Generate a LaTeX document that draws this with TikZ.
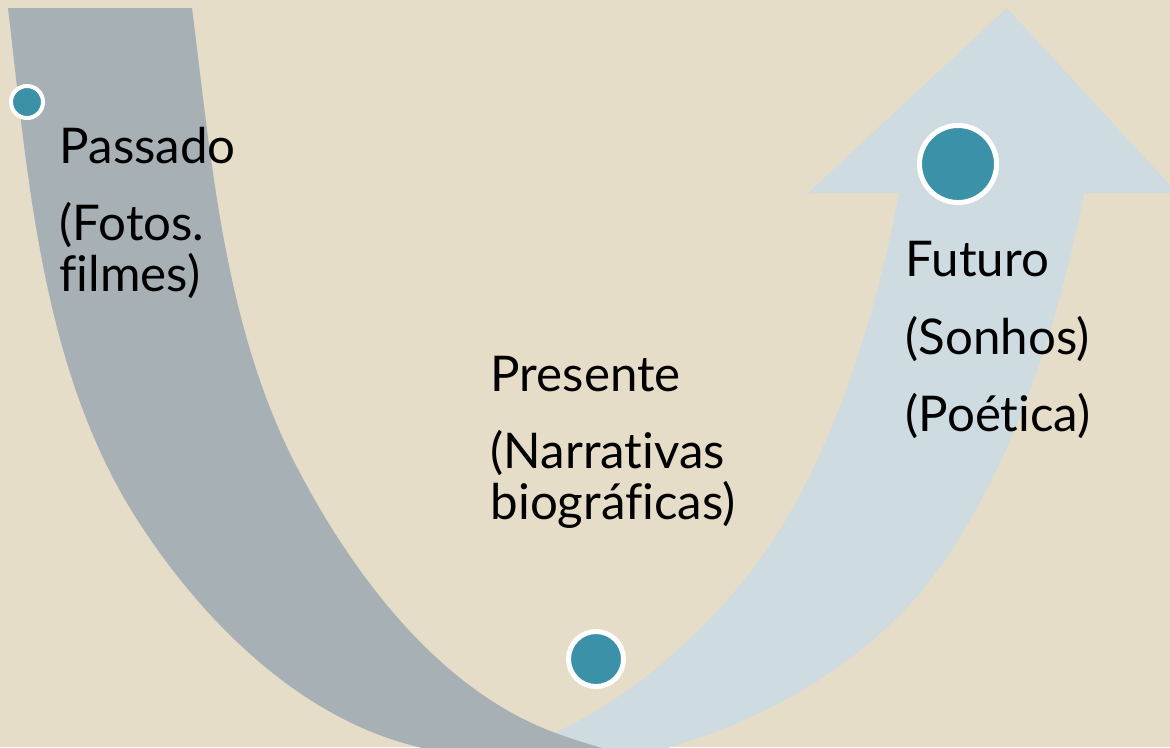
\documentclass[tikz,border=0pt]{standalone}
\usepackage{fontspec}
\setmainfont{Lato}[Ligatures={NoCommon}]
\usetikzlibrary{positioning}

\definecolor{bgbeige}{HTML}{E5DDC8}
\definecolor{pastgray}{HTML}{A6B0B5}
\definecolor{futureblue}{HTML}{CEDBE0}
\definecolor{dotteal}{HTML}{3A91A8}

\begin{document}
\begin{tikzpicture}[
    x=0.01cm, y=-0.01cm,
    dot/.style={circle, draw=white, fill=dotteal, inner sep=0pt},
    lbl/.style={anchor=base west, align=left, inner sep=0pt, font=\fontsize{14pt}{14.5pt}\selectfont},
    pastband/.style={fill=pastgray},
    futureband/.style={fill=futureblue}
]
    % Background
    \fill[bgbeige] (0,0) rectangle (1170,747);
    \useasboundingbox (0,0) rectangle (1170,747);
    \clip (0,0) rectangle (1170,747);

    % Future band with arrow head (under the past band)
    \fill[futureband] (470,775) .. controls (490,765) and (521,749) .. (557,732)
        .. controls (667,679) and (750,584) .. (790,513)
        .. controls (845,415) and (878,304) .. (899,193)
        -- (808,193) -- (1007,8) -- (1177,193) -- (1084,193)
        .. controls (1059,320) and (1019,449) .. (947,557)
        .. controls (887,647) and (786,711) .. (683,743)
        -- (600,770) -- cycle;

    % Past band
    \fill[pastband] (8,8) .. controls (28,180) and (42,366) .. (133,513)
        .. controls (195,612) and (288,708) .. (400,742)
        .. controls (448,756) and (510,768) .. (560,775)
        -- (700,775)
        .. controls (660,762) and (600,750) .. (553,732)
        .. controls (441,690) and (356,579) .. (300,473)
        .. controls (225,333) and (212,166) .. (192,8)
        -- cycle;

    % Dots
    \node[dot, minimum size=0.32cm, line width=0.04cm] (pastdot) at (27,102) {};
    \node[dot, minimum size=0.55cm, line width=0.05cm] (presentdot) at (596,659) {};
    \node[dot, minimum size=0.77cm, line width=0.05cm] (futuredot) at (958,164) {};

    % Labels (anchored at the baseline of their last line)
    \node[lbl] (past) at (59,291) {Passado\\[7.4pt](Fotos.\\filmes)};
    \node[lbl] (present) at (490,519) {Presente\\[7.4pt](Narrativas\\biográficas)};
    \node[lbl] (future) at (905,431) {Futuro\\[7.4pt](Sonhos)\\[7.4pt](Poética)};

\end{tikzpicture}
\end{document}
